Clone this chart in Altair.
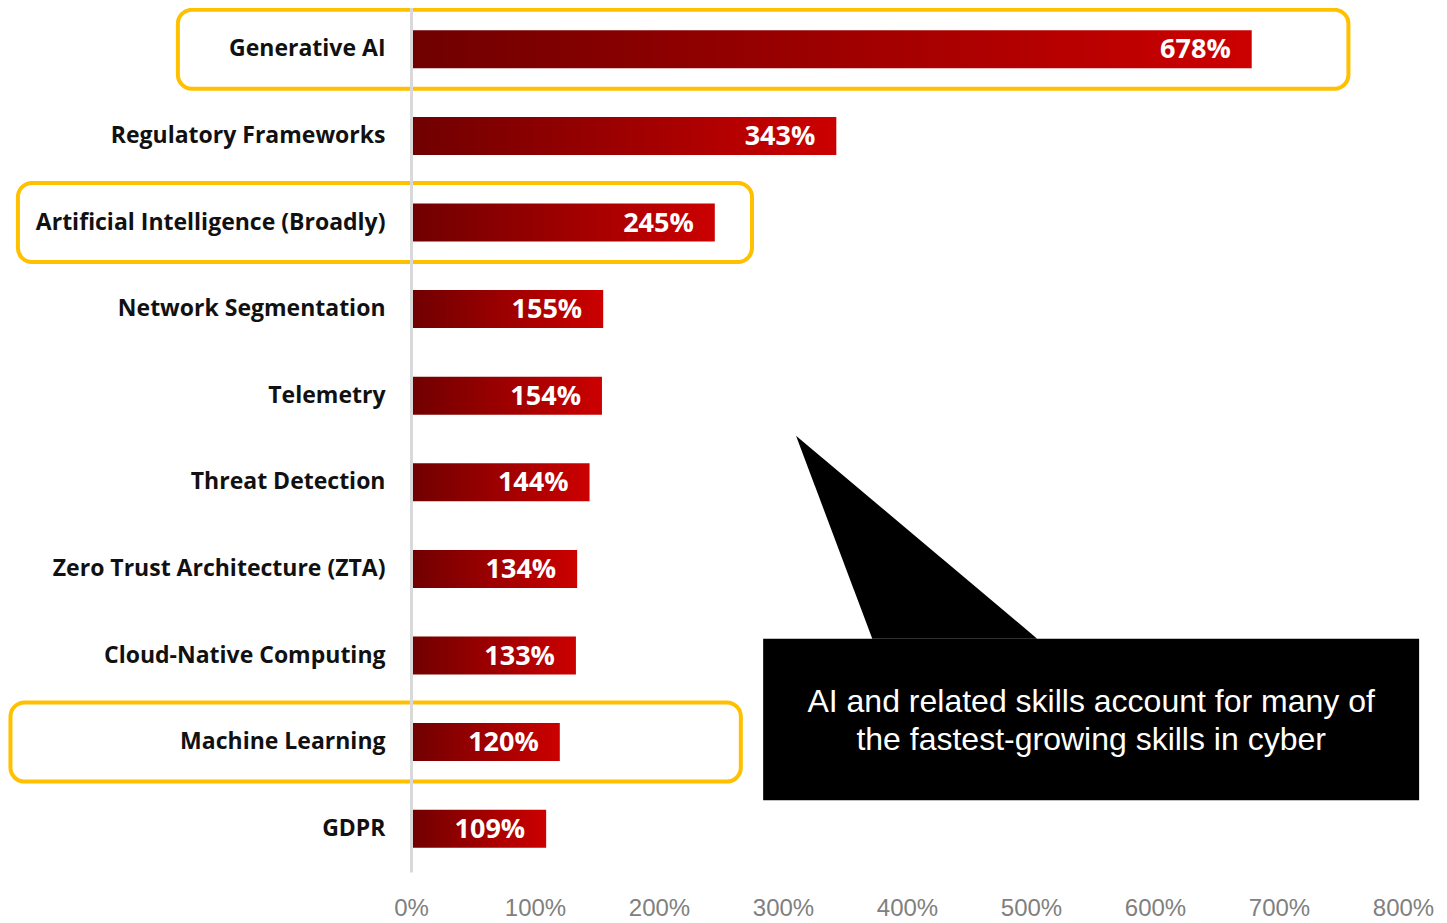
import altair as alt
import pandas as pd

# ---- data ----
skills = ["Generative AI", "Regulatory Frameworks", "Artificial Intelligence (Broadly)",
          "Network Segmentation", "Telemetry", "Threat Detection",
          "Zero Trust Architecture (ZTA)", "Cloud-Native Computing",
          "Machine Learning", "GDPR"]
growth = [678, 343, 245, 155, 154, 144, 134, 133, 120, 109]
x_ticks = [0, 100, 200, 300, 400, 500, 600, 700, 800]

# highlight boxes (in % units of the x scale)
hl_skills = ["Generative AI", "Artificial Intelligence (Broadly)", "Machine Learning"]
hl_start = [-188, -317, -323]
hl_end = [756, 275, 266]

# callout (x in % units, y in row units; row 0 = top)
callout_x = [284]
callout_x2 = [813]
callout_y = [6.80]
callout_y2 = [8.67]
pointer_rows = [4.45, 6.80]
pointer_left = [310.5, 372]
pointer_right = [310.5, 505]
callout_lines = ["AI and related skills account for many of",
                 "the fastest-growing skills in cyber"]
callout_line_rows = [7.53, 7.975]
callout_text_x = [548.5, 548.5]

df = pd.DataFrame({"skill": skills, "growth": growth})
hl = pd.DataFrame({"skill": hl_skills, "start": hl_start, "end": hl_end})
box = pd.DataFrame({"x": callout_x, "x2": callout_x2, "y": callout_y, "y2": callout_y2})
ptr = pd.DataFrame({"row": pointer_rows, "l": pointer_left, "r": pointer_right})
txt = pd.DataFrame({"t": callout_lines, "row": callout_line_rows, "x": callout_text_x})

W, H = 992, 864
xscale = alt.Scale(domain=[0, 800], nice=False)
yband = alt.Scale(domain=skills, paddingInner=0, paddingOuter=0, range=[-2, 864])
yrow = alt.Scale(domain=[-0.5, 9.5], reverse=True, nice=False, zero=False)

xaxis = alt.Axis(values=x_ticks, labelExpr="datum.value + '%'",
                 grid=False, ticks=False, domain=False, labelFlush=False,
                 labelFont="Liberation Sans", labelFontSize=24,
                 labelColor="#808080", labelPadding=24)

grad = alt.LinearGradient(
    gradient="linear",
    stops=[alt.GradientStop(color="#700000", offset=0),
           alt.GradientStop(color="#cc0000", offset=1)],
    x1=0, x2=1, y1=0, y2=0,
)

bars = alt.Chart(df).mark_bar(size=38, color=grad).encode(
    x=alt.X("growth:Q", scale=xscale, title=None, axis=xaxis),
    y=alt.Y("skill:N", scale=yband, sort=skills, title=None,
            axis=alt.Axis(ticks=False, domainColor="#d9d9d9", domainWidth=3,
                          labelFont="Open Sans", labelFontSize=23, labelFontWeight="bold",
                          labelColor="#111111", labelPadding=26, labelLimit=420,
                          zindex=1)),
)

labels = alt.Chart(df).transform_calculate(lab="datum.growth + '%'").mark_text(
    align="right", baseline="middle", dx=-21, dy=1, color="white",
    font="Open Sans", fontSize=27, fontWeight="bold"
).encode(
    x=alt.X("growth:Q", scale=xscale, title=None, axis=xaxis),
    y=alt.Y("skill:N", scale=yband, sort=skills, axis=None),
    text="lab:N",
)

hlboxes = alt.Chart(hl).mark_bar(
    size=79, fill="transparent", stroke="#ffc000", strokeWidth=4, cornerRadius=14
).encode(
    x=alt.X("start:Q", scale=xscale, title=None, axis=xaxis),
    x2="end:Q",
    y=alt.Y("skill:N", scale=yband, sort=skills, axis=None),
)

cbox = alt.Chart(box).mark_rect(color="black").encode(
    x=alt.X("x:Q", scale=xscale, title=None, axis=xaxis),
    x2="x2:Q",
    y=alt.Y("y:Q", scale=yrow, axis=None),
    y2="y2:Q",
)

cptr = alt.Chart(ptr).mark_area(orient="horizontal", color="black").encode(
    y=alt.Y("row:Q", scale=yrow, axis=None),
    x=alt.X("l:Q", scale=xscale, title=None, axis=xaxis),
    x2="r:Q",
)

ctext = alt.Chart(txt).mark_text(
    align="center", baseline="middle", color="white",
    font="Liberation Sans", fontSize=32
).encode(
    x=alt.X("x:Q", scale=xscale, title=None, axis=xaxis),
    y=alt.Y("row:Q", scale=yrow, axis=None),
    text="t:N",
)

chart = alt.layer(hlboxes, bars, labels, cptr, cbox, ctext).resolve_scale(
    y="independent"
).properties(
    width=W, height=H,
    autosize=alt.AutoSizeParams(type="none"),
    padding={"left": 403, "top": 0, "right": 36, "bottom": 50},
).configure_view(stroke=None)

chart.save("out.html", embed_options={"renderer": "svg", "actions": False})
